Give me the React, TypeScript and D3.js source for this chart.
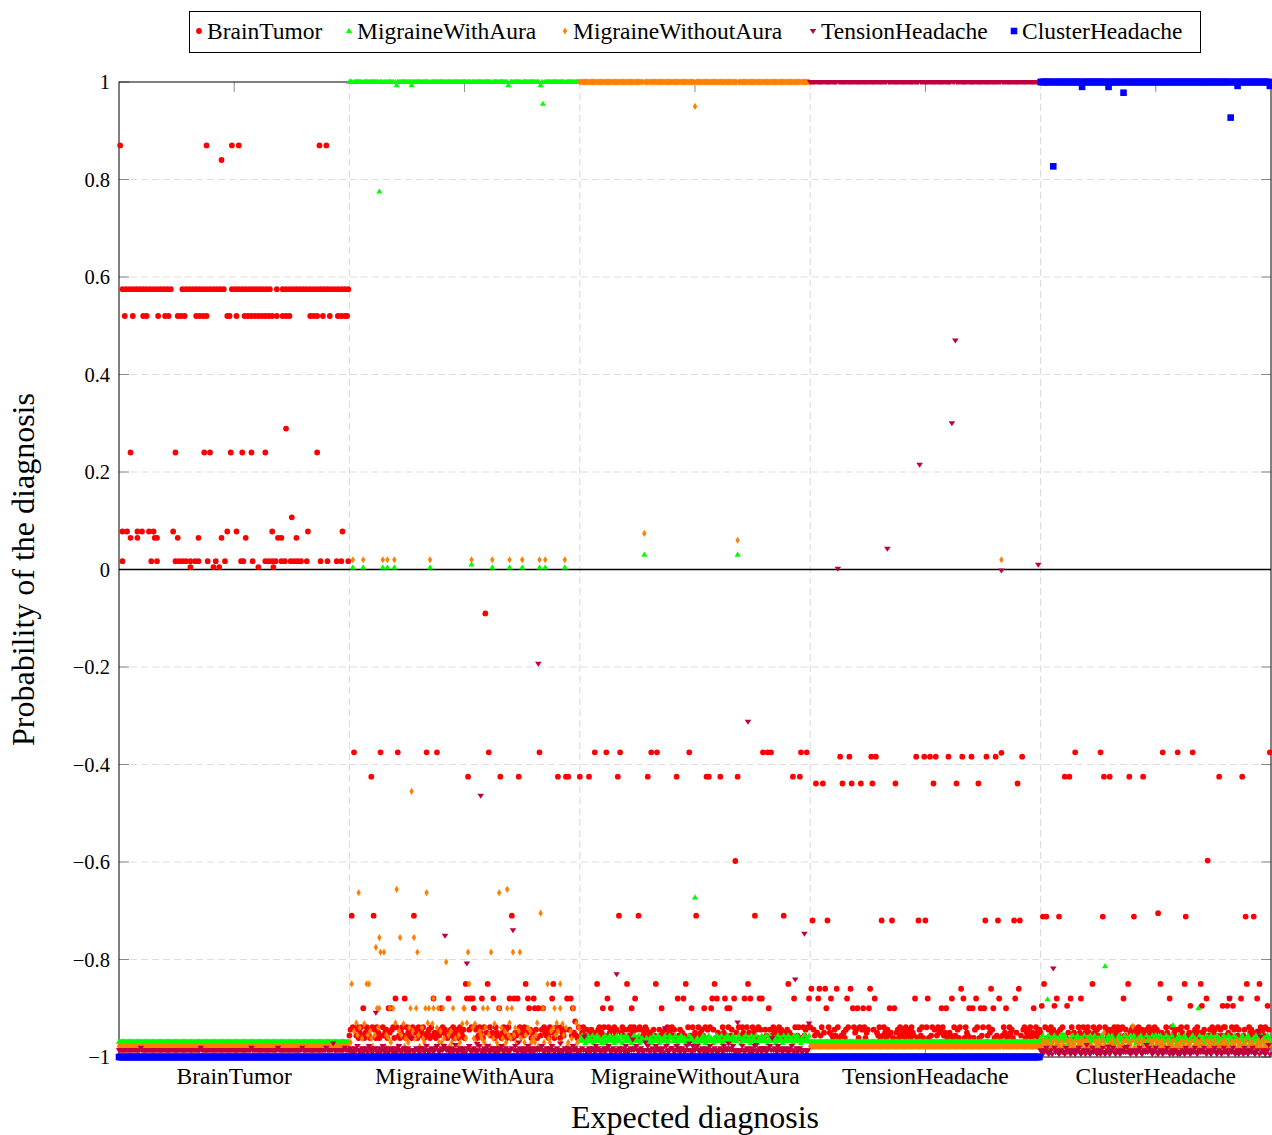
import React, { useEffect, useRef } from "react";
import * as d3 from "d3";

const diagnoses = ["BrainTumor", "MigraineWithAura", "MigraineWithoutAura", "TensionHeadache", "ClusterHeadache"];
const samplesPerGroup = 200;
const yTicks = [-1, -0.8, -0.6, -0.4, -0.2, 0, 0.2, 0.4, 0.6, 0.8, 1];

// level of the dense band each series forms inside each expected-diagnosis group (null = no band)
const brainTumorBase = [null, -0.95, -0.95, -0.95, -0.95];
const migraineWithAuraBase = [-0.969, 1, -0.967, -0.969, -0.967];
const migraineWithoutAuraBase = [-0.978, -0.985, 1, -0.978, -0.982];
const tensionHeadacheBase = [-0.986, -0.986, -0.986, 1, -0.99];
const clusterHeadacheBase = [-1, -1, -1, -1, 1];

// per-sample wobble around the band: one digit per sample, digit -> step added to the level
const brainTumorSteps = [0.011, 0.006, 0, -0.006, -0.011];
const brainTumorWobble = [
  "",
  "31402130420314201342" + "03140241303214023104" + "20134203140231403214" + "03120430214031240231" + "40213402130421340231" +
  "40231403201430214032" + "14032140230142031402" + "31402314021304203142" + "03142031402314023142" + "03140231402143021340",
  "14203413021430241032" + "20314023140213042031" + "42130420314201432014" + "32041302413024130421" + "03142031420314023104" +
  "21304213402130421340" + "23140213402314032104" + "30214032140231402130" + "41302143021430214032" + "10243120430214031402",
  "02413024130421340213" + "41320413024130241302" + "13402130421403214023" + "04130241302143021403" + "21402314023104213042" +
  "30241302143021403214" + "02314032140213402314" + "20413024130421302413" + "41320413021430214032" + "14032104213042130241",
  "24130241302143024130" + "31402130421340213042" + "10243102413024130241" + "42130420314023140321" + "03214023104213042130" +
  "21340213402314032140" + "14023140321402130420" + "32140231402143021340" + "03124302140314023142" + "40213042134021304213",
];

const migraineWithAuraSteps = [0, 0.006, 0.011, -0.005];
const migraineWithAuraWobble = [
  "",
  "",
  "01201302100231020103" + "10230120013021002310" + "20100312010230102013" + "01302010231001203021" + "10020310210130020103" +
  "20130012031020103102" + "01023010201302100321" + "30102001320102301020" + "10230210013020103201" + "02010320120031020102",
  "",
  "10203102013020130210" + "02103010230120310020" + "31020102031002103012" + "00210301201302010320" + "12030102100320130201" +
  "03102013020130210031" + "20130210031020103120" + "01302001203102013002" + "10320130201003120301" + "21003102013020130210",
];

const migraineWithoutAuraSteps = [0, 0.007, 0.015, 0.023, 0.03, 0.038, 0.045, 0.053];
const migraineWithoutAuraWobble = [
  "",
  "02135014260317024153" + "10420631025140372016" + "30152407130264150320" + "41063205142073016425" + "20317041526030142071" +
  "53024016372015430261" + "04125370214063152047" + "31046205137024061523" + "02451360127043250614" + "15032740612053401726",
  "",
  "",
  "01201021001202101020" + "10020120102001210201" + "20101002012010201001" + "01210020100120201012" + "10020102012001020120" +
  "02101201002010120010" + "10201020110200102012" + "01002012010201001201" + "20110020102012001020" + "01020100120102010201",
];

const tensionHeadacheSteps = [0, 0.004, -0.004, 0.009];
const tensionHeadacheWobble = [
  "",
  "01202103020120102301" + "20102012030210201020" + "12030201020120302010" + "02101203020102013020" + "10320102012030201021" +
  "02013020102103020120" + "30201021020130201020" + "01203020102012030210" + "20102013020102103020" + "10230201020120301020",
  "20103020120102301020" + "01201302010230120102" + "30201020130201020103" + "02010230102012030201" + "10203012010203010230" +
  "01302010201203020102" + "20102301020103020120" + "03020102012030201021" + "10201302010230102010" + "02103020120102030201",
  "",
  "10201302012030102010" + "02301020102013020102" + "01020301020120302010" + "20130201020103020120" + "01020130201020310201" +
  "30201020103020120102" + "02010230102010302010" + "10302010201302010203" + "01020103020120102301" + "20103020102301020102",
];

const clusterHeadacheSteps = [0];
const clusterHeadacheWobble = ["", "", "", "", ""];

// samples that leave the band: [group, value, sample indices within the group]
type Outlier = [number, number, number[]];

const brainTumorOutliers: Outlier[] = [
  [0, 0.87, [1, 76, 98, 104, 174, 180]],
  [0, 0.84, [89]],
  [0, 0.575, [3, 6, 9, 12, 15, 18, 21, 24, 27, 30, 33, 36, 39, 42, 45, 55, 58, 61, 64, 67, 70, 73, 76, 79, 82, 85, 88, 91,
    98, 101, 104, 107, 110, 113, 116, 119, 122, 125, 128, 131, 137, 142, 145, 148, 151, 154, 157, 160, 163, 166, 169, 172,
    175, 178, 181, 184, 187, 190, 193, 196, 199]],
  [0, 0.52, [5, 12, 21, 24, 34, 40, 43, 51, 54, 57, 67, 70, 73, 76, 94, 96, 102, 109, 112, 115, 118, 121, 124, 127, 130, 133,
    137, 142, 145, 148, 166, 169, 172, 177, 183, 190, 193, 196, 198]],
  [0, 0.289, [145]],
  [0, 0.24, [10, 49, 74, 79, 97, 107, 115, 127, 172]],
  [0, 0.107, [150]],
  [0, 0.078, [3, 7, 16, 20, 26, 30, 47, 94, 102, 133, 164, 194]],
  [0, 0.065, [10, 16, 31, 33, 51, 69, 89, 110, 138, 141, 154]],
  [0, 0.017, [3, 28, 33, 49, 52, 55, 58, 62, 66, 69, 77, 84, 92, 106, 108, 116, 127, 130, 133, 136, 141, 144, 149, 152, 155,
    158, 163, 175, 181, 189, 193, 199]],
  [0, 0.005, [62, 82, 87, 121, 134]],
  [1, -0.09, [118]],
  [1, -0.375, [4, 27, 42, 67, 76, 121, 165]],
  [1, -0.425, [19, 103, 131, 147, 181, 188, 190]],
  [1, -0.71, [2, 21, 56, 141]],
  [1, -0.85, [101, 120, 153, 177]],
  [1, -0.88, [40, 48, 73, 86, 102, 105, 107, 115, 125, 139, 143, 146, 155, 160, 176, 189, 192]],
  [1, -0.9, [12, 34, 36, 80, 108, 130, 156, 161, 164, 168, 194]],
  [1, -0.927, [196]],
  [2, -0.375, [13, 23, 35, 62, 67, 95, 159, 163, 166, 192, 197]],
  [2, -0.425, [0, 8, 33, 59, 84, 110, 112, 122, 137, 185, 191]],
  [2, -0.598, [135]],
  [2, -0.71, [34, 51, 101, 152, 177]],
  [2, -0.85, [15, 41, 66, 92, 117, 146, 181]],
  [2, -0.88, [24, 48, 85, 90, 115, 119, 126, 134, 143, 148, 156, 158, 186, 199]],
  [2, -0.9, [20, 27, 45, 71, 97, 108, 114, 128, 130, 164]],
  [3, -0.384, [26, 34, 53, 57, 92, 99, 104, 109, 120, 132, 140, 153, 161, 184]],
  [3, -0.376, [166]],
  [3, -0.439, [5, 11, 28, 36, 44, 54, 74, 107, 127, 146, 180]],
  [3, -0.72, [2, 15, 62, 71, 94, 100, 152, 163, 177, 182]],
  [3, -0.86, [1, 8, 13, 23, 35, 52, 131, 157, 181]],
  [3, -0.88, [7, 18, 32, 56, 91, 102, 123, 133, 144, 164, 178]],
  [3, -0.9, [14, 37, 41, 46, 51, 69, 73, 114, 118, 138, 141, 148, 151, 159, 170, 194]],
  [4, -0.375, [30, 52, 106, 119, 132, 199]],
  [4, -0.425, [21, 25, 55, 60, 77, 89, 155, 175]],
  [4, -0.597, [145]],
  [4, -0.712, [2, 5, 16, 54, 81, 126, 178, 185]],
  [4, -0.705, [102]],
  [4, -0.85, [3, 45, 76, 104, 125, 139, 179, 190]],
  [4, -0.88, [14, 26, 35, 72, 112, 144, 164, 174, 188]],
  [4, -0.895, [1, 12, 23, 130, 140, 158, 162, 167, 197]],
];

const migraineWithAuraOutliers: Outlier[] = [
  [1, 0.775, [26]],
  [1, 0.955, [168]],
  [1, 0.993, [41, 54, 138, 166]],
  [1, 0.004, [3, 12, 29, 33, 39, 70, 124, 139, 150, 165, 170, 187]],
  [1, 0.01, [106]],
  [2, 0.03, [56, 137]],
  [2, -0.673, [100]],
  [2, -0.955, [195]],
  [4, -0.814, [56]],
  [4, -0.882, [6]],
  [4, -0.9, [137]],
  [4, -0.935, [115]],
  [4, -0.955, [19, 100, 197]],
  [4, -0.962, [63, 130]],
];

const migraineWithoutAuraOutliers: Outlier[] = [
  [1, 0.02, [3, 12, 29, 33, 39, 70, 106, 124, 139, 150, 165, 170, 187]],
  [1, -0.455, [54]],
  [1, -0.656, [41, 137]],
  [1, -0.663, [8, 67, 130]],
  [1, -0.705, [166]],
  [1, -0.755, [26, 44, 56]],
  [1, -0.775, [23]],
  [1, -0.785, [27, 30, 59, 103, 123, 142, 148]],
  [1, -0.805, [84]],
  [1, -0.85, [2, 15, 17, 104, 172, 183]],
  [1, -0.88, [73]],
  [1, -0.9, [24, 26, 35, 38, 53, 58, 66, 69, 73, 77, 81, 90, 99, 100, 116, 120, 130, 137, 141, 168, 178, 183, 194]],
  [1, -0.93, [6, 40, 68, 102, 139, 163, 180, 197]],
  [2, 0.95, [100]],
  [2, 0.074, [56]],
  [2, 0.06, [137]],
  [3, 0.02, [166]],
  [4, -0.937, [80]],
  [4, -0.95, [55]],
];

const tensionHeadacheOutliers: Outlier[] = [
  [0, -0.981, [19, 71, 115, 138, 159, 180, 196]],
  [0, -0.972, [186]],
  [1, -0.193, [164]],
  [1, -0.464, [114]],
  [1, -0.751, [83]],
  [1, -0.74, [142]],
  [1, -0.808, [102]],
  [1, -0.909, [23]],
  [1, -0.962, [54]],
  [1, -0.97, [147]],
  [1, -0.975, [92]],
  [1, -0.973, [111]],
  [1, -0.972, [183]],
  [2, -0.958, [4]],
  [2, -0.312, [146]],
  [2, -0.83, [32]],
  [2, -0.841, [187]],
  [2, -0.747, [195]],
  [2, -0.929, [137]],
  [2, -0.941, [74]],
  [2, -0.931, [199]],
  [2, -0.964, [46]],
  [2, -0.97, [57]],
  [2, -0.972, [95, 129]],
  [2, -0.975, [153]],
  [2, -0.961, [167]],
  [3, 0.47, [126]],
  [3, 0.3, [123]],
  [3, 0.215, [95]],
  [3, 0.043, [67]],
  [3, 0.002, [24]],
  [3, -0.002, [166]],
  [3, 0.01, [198]],
  [4, -0.818, [11]],
  [4, -0.88, [164]],
  [4, -0.975, [40, 92, 198]],
  [4, -0.979, [59, 75]],
  [4, -0.946, [189]],
  [4, -0.958, [191]],
];

const clusterHeadacheOutliers: Outlier[] = [
  [4, 0.827, [11]],
  [4, 0.927, [165]],
  [4, 0.978, [72]],
  [4, 0.99, [36, 59]],
  [4, 0.992, [171, 199]],
];

const colors = ["#ff0000", "#00ff00", "#ff8000", "#bf0040", "#0000ff"];

type Pt = { g: number; i: number; v: number };

function buildPoints(base: (number | null)[], steps: number[], wobble: string[], outliers: Outlier[]): Pt[] {
  const pts: Pt[] = [];
  const byKey = new Map<number, Pt>();
  base.forEach((b, g) => {
    if (b === null) return;
    const w = wobble[g] || "";
    for (let i = 0; i < samplesPerGroup; i++) {
      const step = w ? steps[+w[i]] ?? 0 : 0;
      const p = { g, i, v: b + step };
      pts.push(p);
      byKey.set(g * 1000 + i, p);
    }
  });
  const moved = new Set<number>();
  outliers.forEach(([g, v, idx]) => {
    idx.forEach((i) => {
      const key = g * 1000 + i;
      const p = byKey.get(key);
      if (p && !moved.has(key)) {
        p.v = v;
        moved.add(key);
      } else {
        pts.push({ g, i, v });
      }
    });
  });
  return pts;
}

const markerPaths: Record<string, string> = {
  circle: d3.symbol().type(d3.symbolCircle).size(Math.PI * 2.9 * 2.9)() as string,
  triangle: "M0,-3.3L3.1,1.9L-3.1,1.9Z",
  diamond: "M0,-3.6L2.2,0L0,3.6L-2.2,0Z",
  triangleDown: "M-3.3,-1.9L3.3,-1.9L0,3.1Z",
  square: "M-3.3,-3.3h6.6v6.6h-6.6Z",
};

const App = () => {
  const ref = useRef<SVGSVGElement>(null);

  useEffect(() => {
    const svg = d3.select(ref.current);
    svg.selectAll("*").remove();
    const font = "'Liberation Serif', 'Times New Roman', serif";

    const left = 119, right = 1271, top = 82, bottom = 1057;
    const x = d3.scaleLinear().domain([0, diagnoses.length * samplesPerGroup]).range([left, right]);
    const y = d3.scaleLinear().domain([-1, 1]).range([bottom, top]);

    const series = [
      { shape: "circle", pts: buildPoints(brainTumorBase, brainTumorSteps, brainTumorWobble, brainTumorOutliers) },
      { shape: "triangle", pts: buildPoints(migraineWithAuraBase, migraineWithAuraSteps, migraineWithAuraWobble, migraineWithAuraOutliers) },
      { shape: "diamond", pts: buildPoints(migraineWithoutAuraBase, migraineWithoutAuraSteps, migraineWithoutAuraWobble, migraineWithoutAuraOutliers) },
      { shape: "triangleDown", pts: buildPoints(tensionHeadacheBase, tensionHeadacheSteps, tensionHeadacheWobble, tensionHeadacheOutliers) },
      { shape: "square", pts: buildPoints(clusterHeadacheBase, clusterHeadacheSteps, clusterHeadacheWobble, clusterHeadacheOutliers) },
    ];

    // grid
    const grid = svg.append("g").attr("stroke", "#dedede").attr("stroke-width", 1.2).attr("stroke-dasharray", "7,4");
    grid.selectAll("line.h")
      .data(yTicks.filter((t) => t !== 0 && Math.abs(t) !== 1))
      .join("line")
      .attr("x1", left).attr("x2", right)
      .attr("y1", (d) => y(d)).attr("y2", (d) => y(d));
    grid.selectAll("line.v")
      .data(d3.range(1, diagnoses.length))
      .join("line")
      .attr("x1", (d) => x(d * samplesPerGroup)).attr("x2", (d) => x(d * samplesPerGroup))
      .attr("y1", top).attr("y2", bottom);

    // ticks
    const ticks = svg.append("g").attr("stroke", "#8a8a8a").attr("stroke-width", 1);
    yTicks.forEach((t) => {
      ticks.append("line").attr("x1", left).attr("x2", left + 10).attr("y1", y(t)).attr("y2", y(t));
      ticks.append("line").attr("x1", right - 10).attr("x2", right).attr("y1", y(t)).attr("y2", y(t));
    });
    diagnoses.forEach((_, g) => {
      const cx = x(g * samplesPerGroup + samplesPerGroup / 2);
      ticks.append("line").attr("x1", cx).attr("x2", cx).attr("y1", top).attr("y2", top + 10);
      ticks.append("line").attr("x1", cx).attr("x2", cx).attr("y1", bottom - 10).attr("y2", bottom);
    });

    // box and zero line
    svg.append("rect")
      .attr("x", left).attr("y", top).attr("width", right - left).attr("height", bottom - top)
      .attr("fill", "none").attr("stroke", "#000").attr("stroke-width", 1);
    svg.append("line")
      .attr("x1", left).attr("x2", right).attr("y1", y(0)).attr("y2", y(0))
      .attr("stroke", "#000").attr("stroke-width", 1.3);

    // points
    series.forEach((s, k) => {
      svg.append("g")
        .selectAll("path")
        .data(s.pts)
        .join("path")
        .attr("d", markerPaths[s.shape])
        .attr("transform", (d) => `translate(${x(d.g * samplesPerGroup + d.i)},${y(d.v)})`)
        .attr("fill", colors[k]);
    });

    // tick labels
    const fmt = d3.format("");
    svg.append("g")
      .selectAll("text")
      .data(yTicks)
      .join("text")
      .attr("x", left - 9)
      .attr("y", (d) => y(d) + 7)
      .attr("text-anchor", "end")
      .attr("font-family", font)
      .attr("font-size", 20.5)
      .text((d) => fmt(d));
    svg.append("g")
      .selectAll("text")
      .data(diagnoses)
      .join("text")
      .attr("x", (_, g) => x(g * samplesPerGroup + samplesPerGroup / 2))
      .attr("y", 1084)
      .attr("text-anchor", "middle")
      .attr("font-family", font)
      .attr("font-size", 23.5)
      .text((d) => d);

    // axis titles
    svg.append("text")
      .attr("x", (left + right) / 2)
      .attr("y", 1128)
      .attr("text-anchor", "middle")
      .attr("font-family", font)
      .attr("font-size", 32)
      .text("Expected diagnosis");
    svg.append("text")
      .attr("transform", `translate(34,${(top + bottom) / 2}) rotate(-90)`)
      .attr("text-anchor", "middle")
      .attr("font-family", font)
      .attr("font-size", 32)
      .text("Probability of the diagnosis");

    // legend
    const legend = svg.append("g");
    legend.append("rect")
      .attr("x", 189.5).attr("y", 11.5).attr("width", 1011).attr("height", 41)
      .attr("fill", "#fff").attr("stroke", "#000").attr("stroke-width", 1);
    const legendX = [199, 349, 565, 813, 1014];
    diagnoses.forEach((name, k) => {
      legend.append("path")
        .attr("d", markerPaths[series[k].shape])
        .attr("transform", `translate(${legendX[k]},31)`)
        .attr("fill", colors[k]);
      legend.append("text")
        .attr("x", legendX[k] + 8)
        .attr("y", 38.5)
        .attr("font-family", font)
        .attr("font-size", 23.5)
        .text(name);
    });
  }, []);

  return (
    <svg
      ref={ref}
      width={1272}
      height={1135}
      style={{ position: "absolute", left: 0, top: 0, background: "#fff" }}
    />
  );
};

export default App;
